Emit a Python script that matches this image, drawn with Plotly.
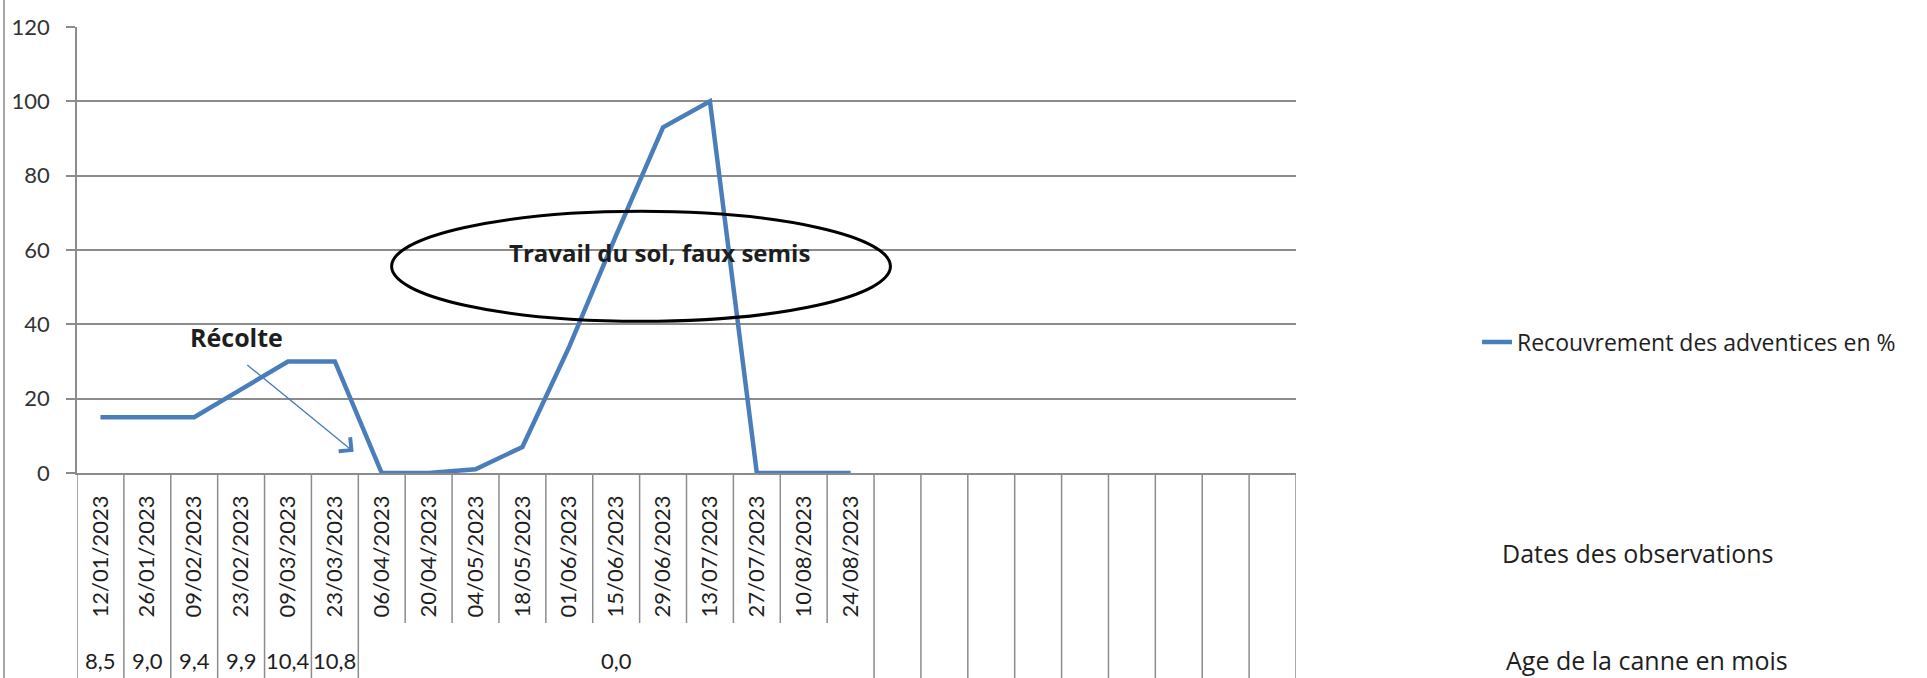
import plotly.graph_objects as go

# ---------------- data ----------------
dates = ["12/01/2023", "26/01/2023", "09/02/2023", "23/02/2023", "09/03/2023",
         "23/03/2023", "06/04/2023", "20/04/2023", "04/05/2023", "18/05/2023",
         "01/06/2023", "15/06/2023", "29/06/2023", "13/07/2023", "27/07/2023",
         "10/08/2023", "24/08/2023"]
recouvrement = [15, 15, 15, 22.5, 30, 30, 0, 0, 1, 7, 34, 64, 93, 100, 0, 0, 0]
n_empty = 9  # empty category slots on the right of the axis

age_labels = ["8,5", "9,0", "9,4", "9,9", "10,4", "10,8", "0,0"]
age_spans = [1, 1, 1, 1, 1, 1, 11]

series_name = "Recouvrement des adventices en %"
y_ticks = [0, 20, 40, 60, 80, 100, 120]

# ---------------- style ----------------
BLUE = "#4a7ebb"
GRID = "#8c8c8c"
FONT = "Lato"
FONT2 = "Open Sans"
TXT = "#1e1e1e"

W, H = 1927, 678
L, R, T, B = 77, 631, 27, 205
plot_w = W - L - R
plot_h = H - T - B

n_cat = len(dates) + n_empty

fig = go.Figure()
fig.add_trace(go.Scatter(
    x=dates, y=recouvrement, mode="lines", name=series_name,
    line=dict(color=BLUE, width=4.5),
))


def py(px_below):  # px below x-axis -> paper y
    return -px_below / plot_h


def px_x(page_x):  # page x px -> paper x
    return (page_x - L) / plot_w


shapes = []
# category separators
group_edges = {0}
acc = 0
for s in age_spans:
    acc += s
    group_edges.add(acc)
for b in range(n_cat + 1):
    full = b in group_edges or b >= len(dates)
    shapes.append(dict(
        type="line", xref="x", yref="paper",
        x0=b - 0.5, x1=b - 0.5, y0=0, y1=py(B) if full else py(150),
        line=dict(color=GRID, width=1.5), layer="above"))

# frame line on the far left
shapes.append(dict(type="line", xref="paper", yref="paper",
                   x0=px_x(4), x1=px_x(4), y0=py(B), y1=1 + T / plot_h,
                   line=dict(color="#8a8a8a", width=1.5)))

# ellipse around the soil work period
shapes.append(dict(type="circle", xref="x", yref="y",
                   x0=6.21, x1=16.85, y0=40.8, y1=70.4,
                   line=dict(color="black", width=3), layer="above"))

annotations = []
# age row
acc = 0
for lab, s in zip(age_labels, age_spans):
    center = acc + (s - 1) / 2
    annotations.append(dict(
        text=lab, x=center, xref="x", y=py(187), yref="paper",
        showarrow=False, xanchor="center", yanchor="middle",
        font=dict(family=FONT, size=22, color=TXT)))
    acc += s

annotations += [
    dict(text="<b>Travail du sol, faux semis</b>", x=11.93, y=59.3,
         xref="x", yref="y", showarrow=False,
         font=dict(family=FONT2, size=24, color=TXT)),
    dict(text="<b>Récolte</b>", x=2.9, y=36.7, xref="x", yref="y",
         showarrow=False, font=dict(family=FONT2, size=25, color=TXT)),
    dict(text="", x=5.4, y=5.7, ax=3.1, ay=29.4, xref="x", yref="y",
         axref="x", ayref="y", showarrow=True, arrowhead=4, arrowsize=2.5,
         arrowwidth=1.4, arrowcolor=BLUE),
    dict(text="Dates des observations", x=px_x(1500), y=py(80), xref="paper",
         yref="paper", showarrow=False, xanchor="left", yanchor="middle",
         font=dict(family=FONT2, size=25, color=TXT)),
    dict(text="Age de la canne en mois", x=px_x(1504), y=py(187), xref="paper",
         yref="paper", showarrow=False, xanchor="left", yanchor="middle",
         font=dict(family=FONT2, size=25, color=TXT)),
]

fig.update_layout(
    width=W, height=H,
    margin=dict(l=L, r=R, t=T, b=B),
    paper_bgcolor="white", plot_bgcolor="white",
    showlegend=True,
    legend=dict(x=px_x(1477), y=(473 - 342) / plot_h,
                xanchor="left", yanchor="middle",
                font=dict(family=FONT2, size=23, color=TXT),
                bgcolor="rgba(0,0,0,0)", itemwidth=30),
    shapes=shapes,
    annotations=annotations,
    xaxis=dict(type="category", categoryorder="array", categoryarray=dates,
               range=[-0.5, n_cat - 0.5], showgrid=False,
               showline=True, linecolor=GRID, linewidth=1.5,
               ticks="", tickangle=-90, ticklabelstandoff=12,
               tickfont=dict(family=FONT, size=22, color=TXT)),
    yaxis=dict(range=[0, 120], tickvals=y_ticks, showgrid=True,
               gridcolor=GRID, gridwidth=1.5, zeroline=False,
               showline=True, linecolor=GRID, linewidth=1.5,
               ticks="outside", ticklen=9, tickcolor=GRID, tickwidth=1.5,
               ticklabelstandoff=12,
               tickfont=dict(family=FONT, size=22, color="#333333")),
)

fig.write_html("out.html",
               config={"displayModeBar": False},
               post_script="document.body.style.margin='0';"
                           "document.body.style.overflow='hidden';")
